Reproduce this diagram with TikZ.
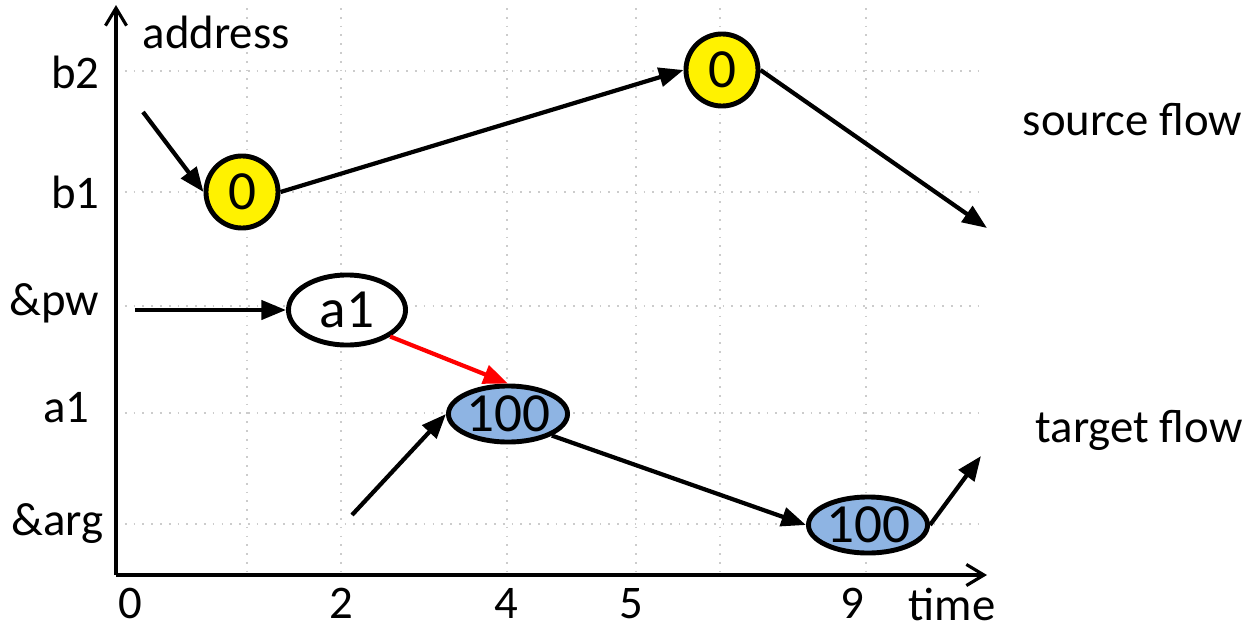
\documentclass[tikz,border=0pt]{standalone}
\usepackage{fontspec}
\setmainfont{Carlito}
\usepackage{xcolor}
\usepackage{tikz}
\usetikzlibrary{arrows.meta,shapes.geometric}
\definecolor{valblue}{HTML}{8EB4E3}

\begin{document}
\begin{tikzpicture}[x=0.01cm,y=-0.01cm,
    every node/.style={inner sep=0pt,font=\fontsize{13.3}{16}\selectfont},
    gridline/.style={gray!40,dotted,line width=0.5pt},
    axis/.style={line width=0.9pt,-{Straight Barb[length=5pt,width=6pt]}},
    flow/.style={line width=1.2pt,-{Triangle[length=7pt,width=5.4pt]}},
    val/.style={draw,line width=1.4pt,inner sep=0pt,font=\fontsize{15.7}{18}\selectfont},
    srcval/.style={val,circle,fill=yellow,minimum size=0.72cm},
    tgtval/.style={val,ellipse,fill=valblue,minimum width=1.19cm,minimum height=0.56cm},
    ptrval/.style={val,ellipse,fill=white,minimum width=1.17cm,minimum height=0.70cm}]
    \useasboundingbox (0,0) rectangle (1254,627);
    % grid
    \foreach \gx in {247,341,507,636,720,866}
        \draw[gridline] (\gx,8) -- (\gx,575);
    \foreach \gy in {71,192,306,413,524}
        \draw[gridline] (116,\gy) -- (985,\gy);
    % axes
    \coordinate (O) at (116,575);
    \coordinate (ytop) at (116,5);
    \coordinate (xend) at (987,575);
    \draw[axis] (O) -- (ytop);
    \draw[axis] (O) -- (xend);
    \node[anchor=base west] (addr) at (142,48) {address};
    \node[anchor=base] (tlab) at (952,620) {time};
    \foreach \lab/\by/\rx [count=\i] in {b2/88/100, b1/208/100, \&pw/315/100, a1/422/90, \&arg/535/104}
        \node[anchor=base east] (ylab\i) at (\rx,\by) {\lab};
    \foreach \lab/\cx [count=\i] in {0/130, 2/341, 4/506, 5/631, 9/852}
        \node[anchor=base] (xlab\i) at (\cx,618) {\lab};
    % values
    \node[srcval] (s1) at (242,192) {0};
    \node[srcval] (s2) at (722,70) {0};
    \node[ptrval] (p) at (347,310) {a1};
    \node[tgtval] (t1) at (508,414) {100};
    \node[tgtval] (t2) at (868,525) {100};
    \coordinate (sin) at (143,112);
    \coordinate (sout) at (987,228);
    \coordinate (pin) at (135,310);
    \coordinate (tin) at (352,515);
    \coordinate (tout) at (981,456);
    % flows
    \draw[flow] (sin) -- (s1.west);
    \draw[flow] (s1.east) -- (s2.west);
    \draw[flow] (s2.east) -- (sout);
    \draw[flow] (pin) -- (p.west);
    \draw[flow,red] (p.south east) -- (t1.north);
    \draw[flow] (tin) -- (t1.west);
    \draw[flow] (t1.south east) -- (t2.west);
    \draw[flow] (t2.east) -- (tout);
    \node[anchor=base west] (srcname) at (1022,135) {source flow};
    \node[anchor=base west] (tgtname) at (1035,442) {target flow};
\end{tikzpicture}
\end{document}
